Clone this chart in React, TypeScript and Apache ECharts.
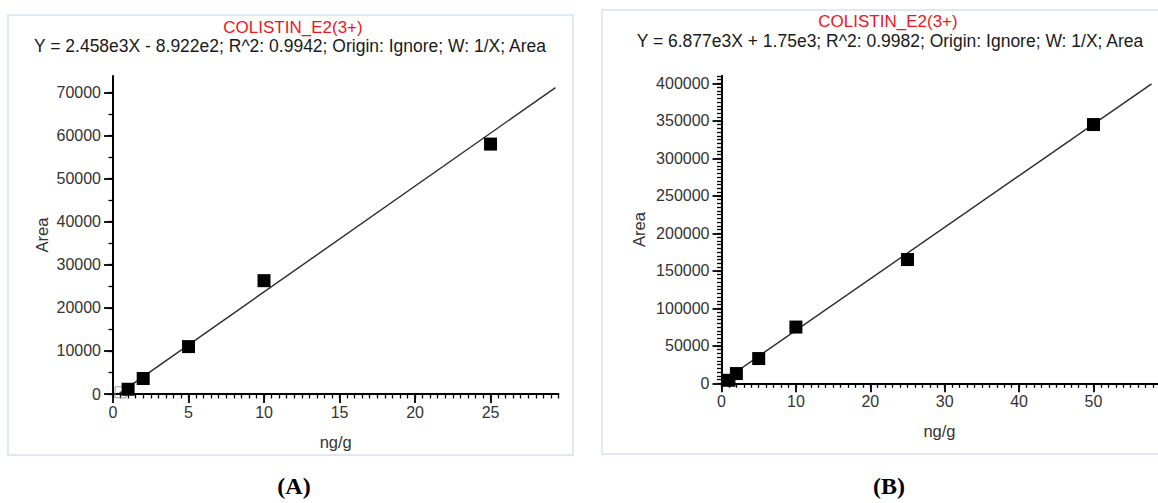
import React, { useEffect, useRef } from "react";
import * as echarts from "echarts";

// ---------- Panel A data ----------
const A_X = [1, 2, 5, 10, 25];
const A_Y = [1100, 3600, 11000, 26300, 58000];
const A_EXCL_X = [0.5];
const A_EXCL_Y = [400];
const A_FIT_X = [0.4, 29.3];
const A_FIT_Y = [100, 71100];
const A_XTICKS = [0, 5, 10, 15, 20, 25];
const A_YTICKS = [0, 10000, 20000, 30000, 40000, 50000, 60000, 70000];
const A_TITLE = "COLISTIN_E2(3+)";
const A_EQ = "Y = 2.458e3X - 8.922e2; R^2: 0.9942; Origin: Ignore; W: 1/X; Area";

// ---------- Panel B data ----------
const B_X = [1, 2, 5, 10, 25, 50];
const B_Y = [4000, 13000, 33000, 75000, 165000, 345000];
const B_FIT_X = [0, 57.8];
const B_FIT_Y = [1750, 399200];
const B_XTICKS = [0, 10, 20, 30, 40, 50];
const B_YTICKS = [0, 50000, 100000, 150000, 200000, 250000, 300000, 350000, 400000];
const B_TITLE = "COLISTIN_E2(3+)";
const B_EQ = "Y = 6.877e3X + 1.75e3; R^2: 0.9982; Origin: Ignore; W: 1/X; Area";

const X_NAME = "ng/g";
const Y_NAME = "Area";
const PANEL_LABELS = ["(A)", "(B)"];

function steps(start: number, end: number, step: number): number[] {
  const out: number[] = [];
  for (let i = 0; start + i * step <= end + 1e-9; i++) out.push(+(start + i * step).toFixed(6));
  return out;
}

const SANS = "Liberation Sans, Arial, Helvetica, sans-serif";
const SERIF = "Liberation Serif, Times New Roman, serif";
const LABEL_COLOR = "#333333";

function pairAxes(
  dim: "x" | "y",
  gridIndex: number,
  min: number,
  max: number,
  majors: number[],
  minors: number[],
  name: string,
  nameGap: number
) {
  const position = dim === "x" ? "bottom" : "left";
  const minor: any = {
    type: "value",
    gridIndex,
    position,
    offset: 0,
    min,
    max,
    axisLine: { show: true, onZero: false, lineStyle: { color: "#000", width: 2 } },
    axisTick: { show: true, length: 4.5, customValues: minors, lineStyle: { color: "#000", width: 1.3 } },
    axisLabel: { show: false },
    splitLine: { show: false },
  };
  const major: any = {
    type: "value",
    gridIndex,
    position,
    offset: 0,
    min,
    max,
    name,
    nameLocation: "middle",
    nameGap,
    nameTextStyle: { color: LABEL_COLOR, fontSize: 16.5, fontFamily: SANS },
    axisLine: { show: false, onZero: false },
    axisTick: { show: true, length: 9, customValues: majors, lineStyle: { color: "#000", width: 1.8 } },
    axisLabel: {
      show: true,
      customValues: majors,
      formatter: (v: number) => String(v),
      color: LABEL_COLOR,
      fontSize: 16,
      fontFamily: SANS,
      margin: dim === "x" ? 10 : 12,
    },
    splitLine: { show: false },
  };
  return [minor, major];
}

export default function App() {
  const ref = useRef<HTMLDivElement>(null);
  useEffect(() => {
    if (!ref.current) return;
    const chart = echarts.init(ref.current, undefined, { renderer: "svg" });
    const aXMax = 29.5;
    const aYMax = 73800;
    const bXMax = 58.6;
    const bYMax = 410000;

    const xAxes = [
      ...pairAxes("x", 0, 0, aXMax, A_XTICKS, steps(0, aXMax, 0.5), X_NAME, 39),
      ...pairAxes("x", 1, 0, bXMax, B_XTICKS, steps(0, bXMax, 1), X_NAME, 39),
    ];
    const yAxes = [
      ...pairAxes("y", 0, 0, aYMax, A_YTICKS, steps(0, aYMax, 5000), Y_NAME, 63),
      ...pairAxes("y", 1, 0, bYMax, B_YTICKS, steps(0, bYMax, 5000), Y_NAME, 74),
    ];

    const pts = (xs: number[], ys: number[]) => xs.map((x, i) => [x, ys[i]]);

    const option: any = {
      animation: false,
      backgroundColor: "#ffffff",
      grid: [
        { left: 113, top: 76, width: 445.5, height: 318 },
        { left: 721.5, top: 75.8, width: 436, height: 307.5 },
      ],
      xAxis: xAxes,
      yAxis: yAxes,
      series: [
        {
          type: "line",
          xAxisIndex: 1,
          yAxisIndex: 1,
          data: pts(A_FIT_X, A_FIT_Y),
          symbol: "none",
          lineStyle: { color: "#2a2a2a", width: 1.4 },
          z: 2,
        },
        {
          type: "scatter",
          xAxisIndex: 1,
          yAxisIndex: 1,
          data: pts(A_EXCL_X, A_EXCL_Y),
          symbol: "rect",
          symbolSize: 11,
          itemStyle: { color: "rgba(255,255,255,0)", borderColor: "#9a9a9a", borderWidth: 1, opacity: 1 },
          z: 3,
        },
        {
          type: "scatter",
          xAxisIndex: 1,
          yAxisIndex: 1,
          data: pts(A_X, A_Y),
          symbol: "rect",
          symbolSize: 13,
          itemStyle: { color: "#000", opacity: 1 },
          z: 4,
        },
        {
          type: "line",
          xAxisIndex: 3,
          yAxisIndex: 3,
          data: pts(B_FIT_X, B_FIT_Y),
          symbol: "none",
          lineStyle: { color: "#2a2a2a", width: 1.4 },
          z: 2,
        },
        {
          type: "scatter",
          xAxisIndex: 3,
          yAxisIndex: 3,
          data: pts(B_X, B_Y),
          symbol: "rect",
          symbolSize: 13,
          itemStyle: { color: "#000", opacity: 1 },
          z: 4,
        },
      ],
      graphic: [
        {
          type: "rect",
          shape: { x: 8, y: 15, width: 565, height: 440 },
          style: { fill: "none", stroke: "#e0e8f2", lineWidth: 2 },
          silent: true,
        },
        {
          type: "rect",
          shape: { x: 602, y: 10, width: 600, height: 444 },
          style: { fill: "none", stroke: "#e0e8f2", lineWidth: 2 },
          silent: true,
        },
        {
          type: "text",
          x: 293,
          y: 27,
          style: { text: A_TITLE, fill: "#f2141c", fontSize: 17, fontFamily: SANS, align: "center", verticalAlign: "middle" },
        },
        {
          type: "text",
          x: 290,
          y: 46,
          style: { text: A_EQ, fill: "#1a1a1a", fontSize: 17.5, fontFamily: SANS, align: "center", verticalAlign: "middle" },
        },
        {
          type: "text",
          x: 888,
          y: 21,
          style: { text: B_TITLE, fill: "#f2141c", fontSize: 17, fontFamily: SANS, align: "center", verticalAlign: "middle" },
        },
        {
          type: "text",
          x: 890,
          y: 41,
          style: { text: B_EQ, fill: "#1a1a1a", fontSize: 17.5, fontFamily: SANS, align: "center", verticalAlign: "middle" },
        },
        {
          type: "text",
          x: 294,
          y: 486,
          style: { text: PANEL_LABELS[0], fill: "#000", fontSize: 24, fontWeight: "bold", fontFamily: SERIF, align: "center", verticalAlign: "middle" },
        },
        {
          type: "text",
          x: 889,
          y: 486,
          style: { text: PANEL_LABELS[1], fill: "#000", fontSize: 24, fontWeight: "bold", fontFamily: SERIF, align: "center", verticalAlign: "middle" },
        },
      ],
    };
    chart.setOption(option);
    return () => chart.dispose();
  }, []);
  return (
    <div
      ref={ref}
      style={{ position: "absolute", left: 0, top: 0, width: 1158, height: 503, background: "#fff" }}
    />
  );
}
